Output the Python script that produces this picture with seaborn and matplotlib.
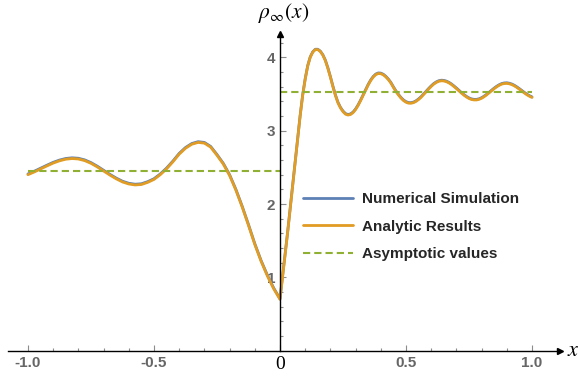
import matplotlib
matplotlib.use("Agg")
import matplotlib.pyplot as plt
from matplotlib.ticker import MultipleLocator
import numpy as np
import pandas as pd
import seaborn as sns

# ---- sample grid -------------------------------------------------------
x_left = [-1.000, -0.975, -0.950, -0.925, -0.900, -0.875, -0.850, -0.825,
          -0.800, -0.775, -0.750, -0.725, -0.700, -0.675, -0.650, -0.625,
          -0.600, -0.575, -0.550, -0.525, -0.500, -0.475, -0.450, -0.425,
          -0.400, -0.375, -0.350, -0.325, -0.300, -0.275, -0.250, -0.225,
          -0.200, -0.175, -0.150, -0.125, -0.100, -0.075, -0.050, -0.025,
          0.000]
x_right = [0.01, 0.02, 0.03, 0.04, 0.05, 0.06, 0.07, 0.08, 0.09, 0.10,
           0.11, 0.12, 0.13, 0.14, 0.15, 0.16, 0.17, 0.18, 0.19, 0.20,
           0.21, 0.22, 0.23, 0.24, 0.25, 0.26, 0.27, 0.28, 0.29, 0.30,
           0.31, 0.32, 0.33, 0.34, 0.35, 0.36, 0.37, 0.38, 0.39, 0.40,
           0.41, 0.42, 0.43, 0.44, 0.45, 0.46, 0.47, 0.48, 0.49, 0.50,
           0.51, 0.52, 0.53, 0.54, 0.55, 0.56, 0.57, 0.58, 0.59, 0.60,
           0.61, 0.62, 0.63, 0.64, 0.65, 0.66, 0.67, 0.68, 0.69, 0.70,
           0.71, 0.72, 0.73, 0.74, 0.75, 0.76, 0.77, 0.78, 0.79, 0.80,
           0.81, 0.82, 0.83, 0.84, 0.85, 0.86, 0.87, 0.88, 0.89, 0.90,
           0.91, 0.92, 0.93, 0.94, 0.95, 0.96, 0.97, 0.98, 0.99, 1.00]

# ---- analytic density --------------------------------------------------
rho_analytic_left = [2.400, 2.437, 2.478, 2.519, 2.558, 2.589, 2.611, 2.620,
                     2.614, 2.592, 2.555, 2.506, 2.451, 2.395, 2.344, 2.301,
                     2.273, 2.260, 2.266, 2.295, 2.335, 2.400, 2.480, 2.575,
                     2.680, 2.760, 2.815, 2.840, 2.830, 2.775, 2.665, 2.545,
                     2.390, 2.190, 1.960, 1.710, 1.450, 1.220, 1.020, 0.845,
                     0.700]
rho_analytic_right = [1.000, 1.300, 1.600, 1.920, 2.230, 2.550, 2.880, 3.200, 3.480, 3.700,
                      3.880, 4.000, 4.070, 4.105, 4.105, 4.080, 4.030, 3.955, 3.850, 3.730,
                      3.600, 3.480, 3.380, 3.310, 3.260, 3.225, 3.213, 3.221, 3.246, 3.288,
                      3.344, 3.410, 3.482, 3.555, 3.623, 3.684, 3.731, 3.764, 3.779, 3.777,
                      3.761, 3.733, 3.696, 3.650, 3.590, 3.535, 3.487, 3.445, 3.411, 3.388,
                      3.375, 3.374, 3.382, 3.400, 3.425, 3.456, 3.492, 3.530, 3.568, 3.603,
                      3.634, 3.657, 3.673, 3.680, 3.678, 3.668, 3.652, 3.630, 3.603, 3.574,
                      3.543, 3.512, 3.484, 3.459, 3.439, 3.425, 3.419, 3.419, 3.427, 3.442,
                      3.463, 3.488, 3.516, 3.545, 3.573, 3.598, 3.619, 3.635, 3.643, 3.645,
                      3.639, 3.628, 3.611, 3.589, 3.565, 3.539, 3.513, 3.489, 3.469, 3.453]

# ---- numerical simulation ----------------------------------------------
rho_numeric_left = [2.410, 2.447, 2.488, 2.529, 2.568, 2.599, 2.621, 2.630,
                    2.624, 2.602, 2.565, 2.516, 2.461, 2.405, 2.354, 2.311,
                    2.283, 2.270, 2.276, 2.305, 2.345, 2.410, 2.490, 2.585,
                    2.690, 2.770, 2.825, 2.850, 2.840, 2.785, 2.675, 2.555,
                    2.400, 2.200, 1.970, 1.720, 1.460, 1.230, 1.030, 0.855,
                    0.708]
rho_numeric_right = [1.008, 1.308, 1.608, 1.928, 2.238, 2.558, 2.888, 3.208, 3.488, 3.708,
                     3.887, 4.006, 4.075, 4.110, 4.110, 4.085, 4.036, 3.962, 3.858, 3.738,
                     3.608, 3.488, 3.388, 3.318, 3.268, 3.233, 3.221, 3.229, 3.254, 3.296,
                     3.352, 3.418, 3.490, 3.563, 3.631, 3.692, 3.739, 3.772, 3.787, 3.785,
                     3.769, 3.741, 3.704, 3.658, 3.598, 3.543, 3.495, 3.453, 3.419, 3.396,
                     3.383, 3.382, 3.390, 3.408, 3.433, 3.464, 3.500, 3.538, 3.576, 3.611,
                     3.642, 3.665, 3.681, 3.688, 3.686, 3.676, 3.660, 3.638, 3.611, 3.582,
                     3.551, 3.520, 3.492, 3.467, 3.447, 3.433, 3.427, 3.427, 3.435, 3.450,
                     3.471, 3.496, 3.524, 3.553, 3.581, 3.606, 3.627, 3.643, 3.651, 3.653,
                     3.647, 3.636, 3.619, 3.597, 3.573, 3.547, 3.521, 3.497, 3.477, 3.461]

# ---- asymptotic plateaus (x-range and level of each side) --------------
asym_x_ranges = [(-1.0, 0.0), (0.0, 1.0)]
asym_levels = [2.45, 3.53]

# ---- axis ticks ---------------------------------------------------------
x_ticks = [-1.0, -0.5, 0.0, 0.5, 1.0]
x_tick_labels = ["-1.0", "-0.5", "0", "0.5", "1.0"]
y_ticks = [1, 2, 3, 4]
y_tick_labels = ["1", "2", "3", "4"]

BLUE = "#5E81B5"
ORANGE = "#E19C24"
GREEN = "#8FB032"
GRAY = "#666666"

sns.set_theme(style="white")
plt.rcParams["font.family"] = ["Liberation Sans", "DejaVu Sans"]
plt.rcParams["mathtext.fontset"] = "stix"
plt.rcParams["lines.scale_dashes"] = False

df = pd.DataFrame({
    "x": x_left + x_right,
    "analytic": rho_analytic_left + rho_analytic_right,
    "numeric": rho_numeric_left + rho_numeric_right,
})

fig = plt.figure(figsize=(5.79, 3.80), dpi=100)
ax = fig.add_axes([0.01434, 0.0771, 0.9528, 0.8334])
ax.set_facecolor("white")

sns.lineplot(data=df, x="x", y="numeric", ax=ax, color=BLUE, linewidth=2.0,
             label="Numerical Simulation", sort=False)
sns.lineplot(data=df, x="x", y="analytic", ax=ax, color=ORANGE, linewidth=2.0,
             label="Analytic Results", sort=False)
for i, ((x0, x1), level) in enumerate(zip(asym_x_ranges, asym_levels)):
    ax.plot([x0, x1], [level, level], color=GREEN, linewidth=1.5,
            dashes=(5.2, 2.9), label="Asymptotic values" if i == 0 else None)

ax.set_xlim(-1.078, 1.111)
ax.set_ylim(0, 4.318)

# Axes through the origin with arrow heads
for side in ("top", "right"):
    ax.spines[side].set_visible(False)
ax.spines["left"].set_position(("data", 0))
for side in ("left", "bottom"):
    ax.spines[side].set_color("black")
    ax.spines[side].set_linewidth(1.0)
    ax.spines[side].set_zorder(5)
ax.plot(1, 0, ">", color="black", ms=5, transform=ax.get_yaxis_transform(),
        clip_on=False, zorder=6)
ax.plot(0, 1, "^", color="black", ms=5, transform=ax.get_xaxis_transform(),
        clip_on=False, zorder=6)

ax.set_xticks(x_ticks)
ax.set_xticklabels(x_tick_labels)
ax.set_yticks(y_ticks)
ax.set_yticklabels(y_tick_labels)
ax.xaxis.set_minor_locator(MultipleLocator(0.1))
ax.yaxis.set_minor_locator(MultipleLocator(0.2))
ax.tick_params(axis="both", which="both", bottom=True, left=True,
               top=False, right=False)
ax.tick_params(axis="both", which="major", direction="in", length=4.2,
               width=0.8, color="#8c8c8c", labelsize=11, labelcolor=GRAY)
ax.tick_params(axis="both", which="minor", direction="in", length=2.4,
               width=0.8, color="#8c8c8c")
ax.tick_params(axis="x", which="major", pad=4)
ax.tick_params(axis="y", which="major", pad=3.5)
for lab in ax.get_xticklabels() + ax.get_yticklabels():
    lab.set_fontweight("bold")
origin_label = ax.get_xticklabels()[2]
origin_label.set_fontfamily("Liberation Serif")
origin_label.set_fontweight("normal")
origin_label.set_color("black")
origin_label.set_fontsize(14)

ax.set_xlabel("")
ax.set_ylabel("")
ax.text(1.024, 0, r"$x$", transform=ax.get_yaxis_transform(), ha="center",
        va="center", fontsize=16, color="black", clip_on=False)
ax.text(0.016, 1.065, r"$\rho_{\infty}(x)$", transform=ax.get_xaxis_transform(),
        ha="center", va="center", fontsize=15.5, color="black", clip_on=False)

ax.legend(loc="upper left", bbox_to_anchor=(0.5228, 0.495),
          bbox_transform=fig.transFigure, frameon=False, borderpad=0,
          borderaxespad=0, handlelength=3.27, handletextpad=0.6,
          labelspacing=0.9, prop={"weight": "bold", "size": 11})

fig.savefig("out.png", dpi=100, facecolor="white")
